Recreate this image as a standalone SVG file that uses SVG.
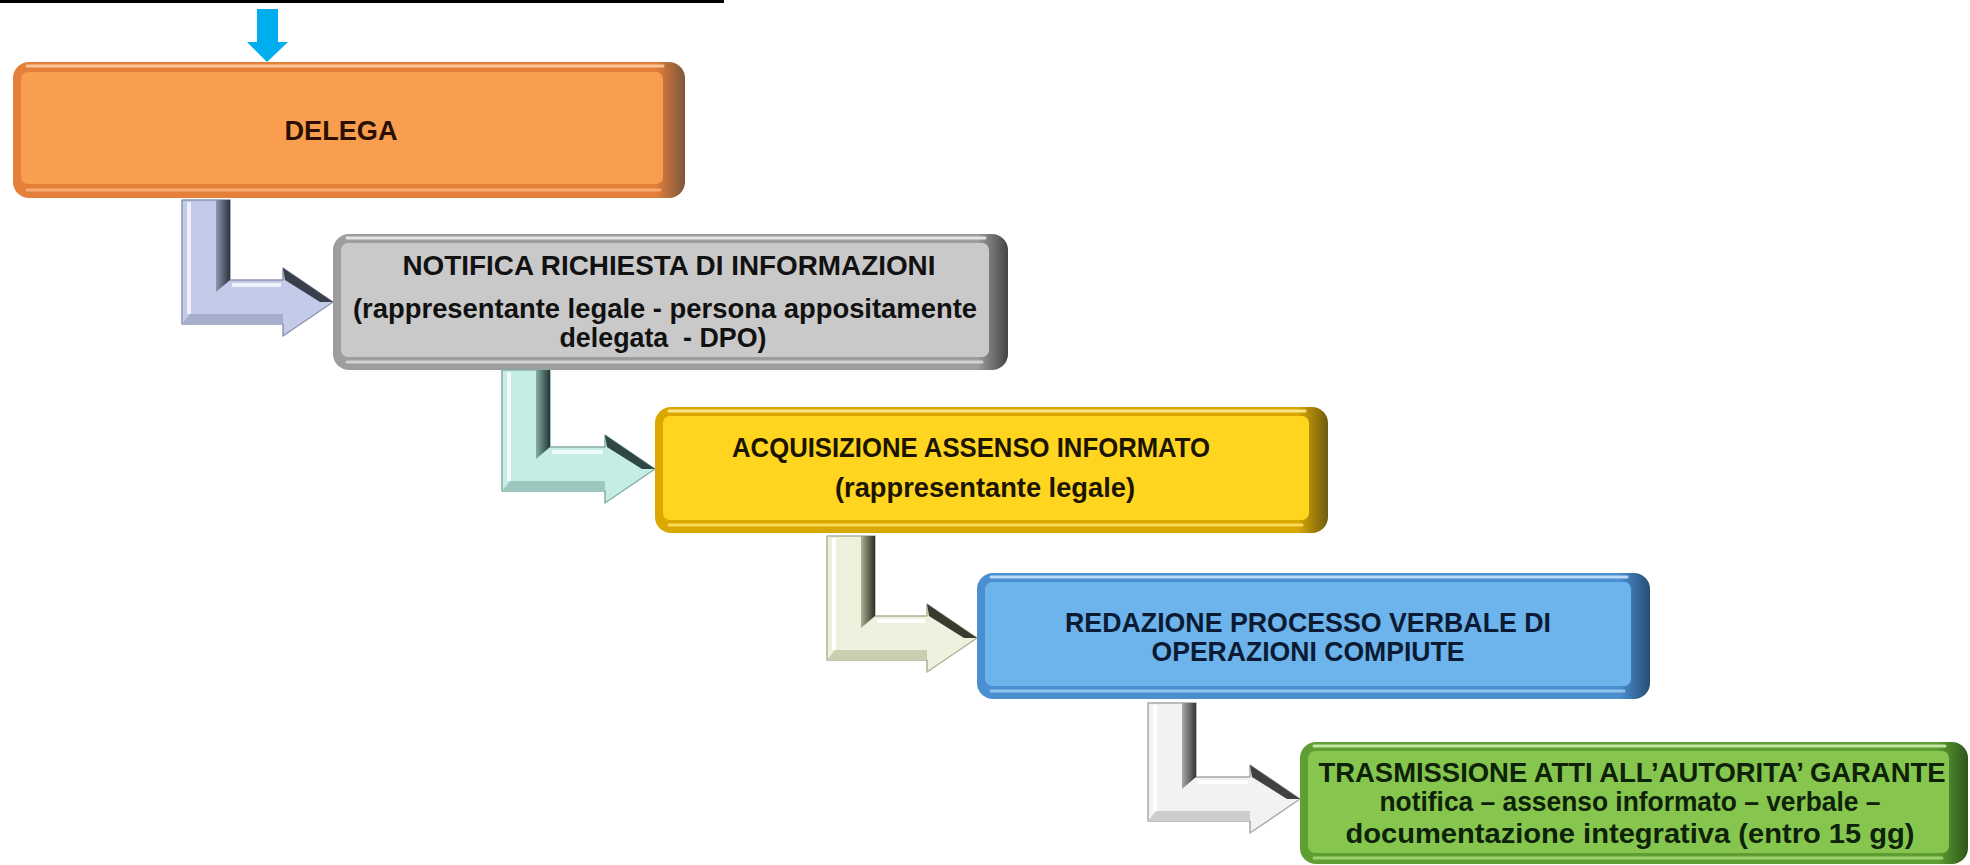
<svg xmlns="http://www.w3.org/2000/svg" width="1970" height="865" viewBox="0 0 1970 865">
<defs>
<style>
.t{font-family:"Liberation Sans",Arial,sans-serif;font-weight:bold;font-size:28px;text-anchor:middle}
.hl{fill:none;stroke-width:3;stroke-linecap:round;opacity:.85}
.cs{stroke-width:1.5;stroke-linejoin:round}
</style>
<linearGradient id="gOr" x1="0" y1="0" x2="1" y2="0"><stop offset="0" stop-color="#e5803a"/><stop offset=".955" stop-color="#e5803a"/><stop offset="1" stop-color="#7d573c"/></linearGradient>
<linearGradient id="gGr" x1="0" y1="0" x2="1" y2="0"><stop offset="0" stop-color="#9d9d9d"/><stop offset=".955" stop-color="#9d9d9d"/><stop offset="1" stop-color="#444"/></linearGradient>
<linearGradient id="gYe" x1="0" y1="0" x2="1" y2="0"><stop offset="0" stop-color="#dba800"/><stop offset=".955" stop-color="#dba800"/><stop offset="1" stop-color="#6f5b12"/></linearGradient>
<linearGradient id="gBl" x1="0" y1="0" x2="1" y2="0"><stop offset="0" stop-color="#4a8fd0"/><stop offset=".955" stop-color="#4a8fd0"/><stop offset="1" stop-color="#264d75"/></linearGradient>
<linearGradient id="gGn" x1="0" y1="0" x2="1" y2="0"><stop offset="0" stop-color="#5e9e33"/><stop offset=".955" stop-color="#5e9e33"/><stop offset="1" stop-color="#2d561a"/></linearGradient>
<linearGradient id="f1" x1="0" y1="0" x2="1" y2="0"><stop offset="0" stop-color="#8d95b3"/><stop offset="1" stop-color="#2e323c"/></linearGradient>
<linearGradient id="f2" x1="0" y1="0" x2="1" y2="0"><stop offset="0" stop-color="#86aea7"/><stop offset="1" stop-color="#223634"/></linearGradient>
<linearGradient id="f3" x1="0" y1="0" x2="1" y2="0"><stop offset="0" stop-color="#aeb296"/><stop offset="1" stop-color="#2c2e24"/></linearGradient>
<linearGradient id="f4" x1="0" y1="0" x2="1" y2="0"><stop offset="0" stop-color="#a8a8a8"/><stop offset="1" stop-color="#363636"/></linearGradient>
</defs>

<rect x="0" y="0" width="724" height="3" fill="#000"/>
<polygon points="257,9 278,9 278,42 288,42 267,62 247,42 257,42" fill="#00aeef"/>

<g id="n1">
<rect x="13" y="62" width="672" height="136" rx="16" fill="url(#gOr)"/>
<rect x="21" y="72" width="642" height="112" rx="7" fill="#f99d4e"/>
<path class="hl" d="M27 66 H663" stroke="#ffd3a8"/>
<path class="hl" d="M27 190 H660" stroke="#fbb27a"/>
<text class="t" x="341" y="140" fill="#2b0f05" textLength="113" lengthAdjust="spacingAndGlyphs">DELEGA</text>
</g>

<g id="n2">
<rect x="333" y="234" width="675" height="136" rx="16" fill="url(#gGr)"/>
<rect x="341" y="243" width="648" height="114" rx="7" fill="#c9c9c9"/>
<path class="hl" d="M347 238 H985" stroke="#f2f2f2"/>
<path class="hl" d="M347 362 H982" stroke="#dcdcdc"/>
<text class="t" x="669" y="275" fill="#111" textLength="533" lengthAdjust="spacingAndGlyphs">NOTIFICA RICHIESTA DI INFORMAZIONI</text>
<text class="t" x="665" y="318" fill="#111" textLength="624" lengthAdjust="spacingAndGlyphs">(rappresentante legale - persona appositamente</text>
<text class="t" x="663" y="347" fill="#111" textLength="207" lengthAdjust="spacingAndGlyphs">delegata &#160;- DPO)</text>
</g>

<g id="n3">
<rect x="655" y="407" width="673" height="126" rx="16" fill="url(#gYe)"/>
<rect x="663" y="416" width="646" height="104" rx="7" fill="#ffd51f"/>
<path class="hl" d="M669 411 H1305" stroke="#fff0a0"/>
<path class="hl" d="M669 525 H1302" stroke="#ffe36a"/>
<text class="t" x="971" y="457" fill="#1a1400" textLength="478" lengthAdjust="spacingAndGlyphs">ACQUISIZIONE ASSENSO INFORMATO</text>
<text class="t" x="985" y="497" fill="#1a1400" textLength="300" lengthAdjust="spacingAndGlyphs">(rappresentante legale)</text>
</g>

<g id="n4">
<rect x="977" y="573" width="673" height="126" rx="16" fill="url(#gBl)"/>
<rect x="985" y="582" width="646" height="104" rx="7" fill="#6db3ec"/>
<path class="hl" d="M991 577 H1627" stroke="#cfe8ff"/>
<path class="hl" d="M991 691 H1624" stroke="#9dcdf5"/>
<text class="t" x="1308" y="632" fill="#0b1b33" textLength="486" lengthAdjust="spacingAndGlyphs">REDAZIONE PROCESSO VERBALE DI</text>
<text class="t" x="1308" y="661" fill="#0b1b33" textLength="313" lengthAdjust="spacingAndGlyphs">OPERAZIONI COMPIUTE</text>
</g>

<g id="n5">
<rect x="1300" y="742" width="668" height="122" rx="16" fill="url(#gGn)"/>
<rect x="1308" y="751" width="641" height="102" rx="7" fill="#86c64e"/>
<path class="hl" d="M1314 746 H1945" stroke="#d6f2b8"/>
<path class="hl" d="M1314 858 H1942" stroke="#a8dc7a"/>
<text class="t" x="1632" y="782" fill="#0d2208" textLength="627" lengthAdjust="spacingAndGlyphs">TRASMISSIONE ATTI ALL’AUTORITA’ GARANTE</text>
<text class="t" x="1630" y="811" fill="#0d2208" textLength="501" lengthAdjust="spacingAndGlyphs">notifica – assenso informato – verbale –</text>
<text class="t" x="1630" y="843" fill="#0d2208" textLength="569" lengthAdjust="spacingAndGlyphs">documentazione integrativa (entro 15 gg)</text>
</g>

<g id="connectors">
<g id="c1">
<polygon class="cs" points="182,200 230,200 230,280 283,280 283,268 333,302 283,336 283,324 182,324" fill="#c3cbe8" stroke="#8d95b3"/>
<polygon points="216,200 230,200 230,280 216,292" fill="url(#f1)"/>
<polygon points="283,268 333,302 320,302 285,280" fill="#3a3f4c"/>
<polygon points="190,314 283,314 283,324 182,324" fill="#a6aecb"/>
<path d="M189 202 V314" stroke="#eef1fb" stroke-width="4" fill="none"/>
<path d="M232 285 H281" stroke="#eef1fb" stroke-width="4" fill="none"/>
</g>
<g id="c2">
<polygon class="cs" points="502,370 550,370 550,447 605,447 605,435 655,469 605,503 605,491 502,491" fill="#c6ece6" stroke="#86aea7"/>
<polygon points="536,370 550,370 550,447 536,459" fill="url(#f2)"/>
<polygon points="605,435 655,469 642,469 607,447" fill="#2e4644"/>
<polygon points="510,481 605,481 605,491 502,491" fill="#9cc8c0"/>
<path d="M509 372 V481" stroke="#f1fcfa" stroke-width="4" fill="none"/>
<path d="M552 452 H603" stroke="#f1fcfa" stroke-width="4" fill="none"/>
</g>
<g id="c3">
<polygon class="cs" points="827,536 875,536 875,616 927,616 927,604 977,638 927,672 927,660 827,660" fill="#eef1dd" stroke="#aeb296"/>
<polygon points="861,536 875,536 875,616 861,628" fill="url(#f3)"/>
<polygon points="927,604 977,638 964,638 929,616" fill="#383b2e"/>
<polygon points="835,650 927,650 927,660 827,660" fill="#cbcfb2"/>
<path d="M834 538 V650" stroke="#ffffff" stroke-width="4" fill="none"/>
<path d="M877 621 H925" stroke="#ffffff" stroke-width="4" fill="none"/>
</g>
<g id="c4">
<polygon class="cs" points="1148,703 1196,703 1196,777 1250,777 1250,765 1300,799 1250,833 1250,821 1148,821" fill="#f2f2f2" stroke="#a8a8a8"/>
<polygon points="1182,703 1196,703 1196,777 1182,789" fill="url(#f4)"/>
<polygon points="1250,765 1300,799 1287,799 1252,777" fill="#404040"/>
<polygon points="1156,811 1250,811 1250,821 1148,821" fill="#cdcdcd"/>
<path d="M1155 705 V811" stroke="#ffffff" stroke-width="4" fill="none"/>
<path d="M1198 782 H1248" stroke="#ffffff" stroke-width="4" fill="none"/>
</g>
</g>
</svg>
